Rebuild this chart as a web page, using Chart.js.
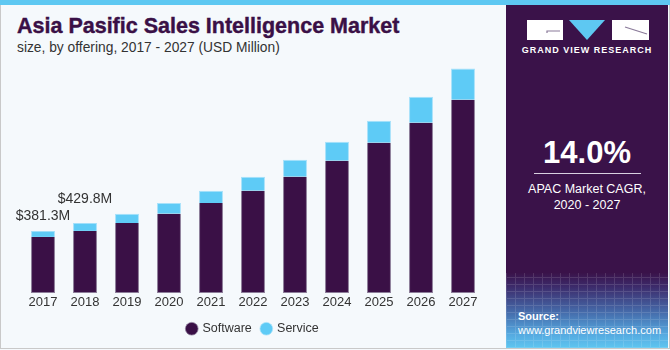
<!DOCTYPE html>
<html>
<head>
<meta charset="utf-8">
<script src="https://cdn.jsdelivr.net/npm/chart.js@4.4.1/dist/chart.umd.min.js"></script>
<style>
  html, body { margin: 0; padding: 0; }
  body { width: 670px; height: 350px; overflow: hidden; background: #f5f9fc; font-family: "Liberation Sans", Arial, sans-serif; }
  #frame { position: absolute; left: 0; top: 0; width: 668px; height: 348px; border: 1px solid #c9c9c9; border-top: none; background: #f5f9fc; }
  #topbar { position: absolute; left: 0; top: 0; width: 670px; height: 5px; background: #5ec8f2; }
  #title { position: absolute; left: 17px; top: 14px; font-size: 21.5px; font-weight: bold; color: #3a1046; -webkit-text-stroke: 0.4px #3a1046; white-space: nowrap; }
  #subtitle { position: absolute; left: 17px; top: 40px; font-size: 13.8px; color: #333; white-space: nowrap; }
  #chartBox { position: absolute; left: 0; top: 60px; width: 500px; height: 285px; }
  #panel { position: absolute; left: 506px; top: 5px; width: 162px; height: 343px;
    background: linear-gradient(to bottom, #3a1249 0%, #3a1249 78%, #3c2a6a 82%, #466fae 90%, #55a9e0 96%, #5ec6f0 100%); color: #fff; overflow: hidden; }
  #grid { position: absolute; left: 0; top: 268px; width: 162px; height: 75px; opacity: 0.12;
    background-image: repeating-linear-gradient(90deg, #fff 0 1px, transparent 1px 9px), repeating-linear-gradient(0deg, #fff 0 1px, transparent 1px 7px); }
  .logoBox { position: absolute; top: 15px; height: 20px; background: #fff; }
  #tri { position: absolute; left: 63px; top: 15px; width: 0; height: 0; border-left: 18.5px solid transparent; border-right: 18.5px solid transparent; border-top: 20px solid #5ec8f2; }
  #brand { position: absolute; left: 0; top: 40px; width: 162px; text-align: center; font-size: 9px; font-weight: bold; letter-spacing: 1px; }
  #cagr { position: absolute; left: 0; top: 130px; width: 162px; text-align: center; font-size: 31px; font-weight: bold; }
  #rule { position: absolute; left: 28px; top: 168px; width: 107px; height: 1px; background: #d8d0e0; }
  #cagrText { position: absolute; left: 0; top: 176px; width: 162px; text-align: center; font-size: 12.5px; line-height: 16px; }
  #source { position: absolute; left: 12px; top: 304px; font-size: 11px; line-height: 14px; }
</style>
</head>
<body>
<div id="frame"></div>
<div id="topbar"></div>
<div id="title">Asia Pasific Sales Intelligence Market</div>
<div id="subtitle">size, by offering, 2017 - 2027 (USD Million)</div>
<div id="chartBox"><canvas id="chart"></canvas></div>
<div id="panel">
  <div id="grid"></div>
  <div class="logoBox" style="left:21px;width:36px"></div>
  <div id="tri"></div>
  <div class="logoBox" style="left:106px;width:37px"></div>
  <svg style="position:absolute;left:21px;top:15px" width="122" height="20" viewBox="0 0 122 20">
    <polyline points="33,11 20,11 20,13" fill="none" stroke="#8a7a99" stroke-width="1.2"/>
    <line x1="98" y1="7" x2="120" y2="14" stroke="#8a7a99" stroke-width="1.2"/>
  </svg>
  <div id="brand">GRAND VIEW RESEARCH</div>
  <div id="cagr">14.0%</div>
  <div id="rule"></div>
  <div id="cagrText">APAC Market CAGR,<br>2020 - 2027</div>
  <div id="source"><b>Source:</b><br>www.grandviewresearch.com</div>
</div>
<script>
const years = ["2017", "2018", "2019", "2020", "2021", "2022", "2023", "2024", "2025", "2026", "2027"];
const software = [344, 381, 430, 486, 553, 627, 713, 812, 923, 1046, 1187];
const service = [37, 49, 56, 67, 74, 86, 105, 117, 135, 159, 191];
const callouts = ["$381.3M", "$429.8M"];

const calloutOffsets = [8, 17];

const calloutPlugin = {
  id: "callouts",
  afterDatasetsDraw(chart) {
    const ctx = chart.ctx;
    const xs = chart.scales.x;
    const ys = chart.scales.y;
    ctx.save();
    ctx.font = "14px 'Liberation Sans', Arial, sans-serif";
    ctx.fillStyle = "#333";
    ctx.textAlign = "center";
    ctx.textBaseline = "bottom";
    callouts.forEach((txt, i) => {
      const total = software[i] + service[i];
      ctx.fillText(txt, xs.getPixelForValue(i), ys.getPixelForValue(total) - calloutOffsets[i]);
    });
    ctx.restore();
  },
};

new Chart(document.getElementById("chart"), {
  type: "bar",
  data: {
    labels: years,
    datasets: [
      {
        label: "Software",
        data: software,
        backgroundColor: "#3a1046",
        borderColor: "#8c7d99",
        borderWidth: { left: 1, right: 1, bottom: 1, top: 0 },
        borderSkipped: false,
      },
      {
        label: "Service",
        data: service,
        backgroundColor: "#5ecbf6",
        borderColor: "#a8e2fa",
        borderWidth: { left: 1, right: 1, top: 1, bottom: 0 },
        borderSkipped: false,
      },
    ],
  },
  options: {
    responsive: true,
    maintainAspectRatio: false,
    animation: false,
    categoryPercentage: 1,
    barPercentage: 0.57,
    layout: { padding: { left: 22, right: 16, top: 5, bottom: 0 } },
    plugins: {
      legend: {
        position: "bottom",
        labels: {
          usePointStyle: true,
          pointStyle: "circle",
          boxWidth: 9,
          boxHeight: 9,
          padding: 10,
          color: "#333",
          font: { family: "'Liberation Sans', Arial, sans-serif", size: 12.5 },
        },
      },
      tooltip: { enabled: false },
    },
    scales: {
      x: {
        stacked: true,
        grid: { display: false, drawTicks: false },
        border: { display: false },
        ticks: {
          color: "#333",
          padding: 2,
          font: { family: "'Liberation Sans', Arial, sans-serif", size: 13 },
        },
      },
      y: {
        stacked: true,
        display: false,
        min: 0,
        max: 1400,
      },
    },
  },
  plugins: [calloutPlugin],
});
</script>
</body>
</html>
